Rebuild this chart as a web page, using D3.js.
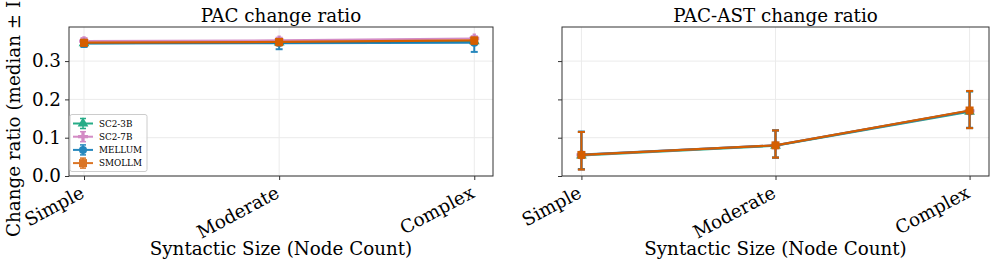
<!DOCTYPE html>
<html>
<head>
<meta charset="utf-8">
<script src="https://cdn.jsdelivr.net/npm/d3@7"></script>
<style>
  body { margin: 0; background: #fff; }
  text { font-family: "DejaVu Serif", serif; }
</style>
</head>
<body>
<script>
const categories = ["Simple", "Moderate", "Complex"];
const seriesNames = ["SC2-3B", "SC2-7B", "MELLUM", "SMOLLM"];
const seriesColors = ["#029e73", "#cc78bc", "#0173b2", "#d55e00"];
const seriesMarkers = ["triangle", "plus", "circle", "square"];
const yTicks = [0.0, 0.1, 0.2, 0.3];

// PAC change ratio: median, lower and upper (IQR)
const pacMedian = [
  [0.347, 0.349, 0.352],
  [0.352, 0.354, 0.359],
  [0.346, 0.347, 0.348],
  [0.348, 0.350, 0.354]
];
const pacLow = [
  [0.339, 0.342, 0.344],
  [0.345, 0.347, 0.351],
  [0.337, 0.331, 0.324],
  [0.340, 0.341, 0.345]
];
const pacHigh = [
  [0.354, 0.356, 0.360],
  [0.360, 0.361, 0.365],
  [0.353, 0.355, 0.356],
  [0.355, 0.357, 0.361]
];

// PAC-AST change ratio
const astMedian = [
  [0.054, 0.079, 0.168],
  [0.055, 0.080, 0.170],
  [0.056, 0.080, 0.170],
  [0.055, 0.080, 0.171]
];
const astLow = [
  [0.017, 0.048, 0.125],
  [0.017, 0.048, 0.125],
  [0.018, 0.048, 0.126],
  [0.017, 0.048, 0.125]
];
const astHigh = [
  [0.115, 0.119, 0.221],
  [0.115, 0.119, 0.222],
  [0.116, 0.119, 0.221],
  [0.115, 0.119, 0.222]
];

const svg = d3.select("body").append("svg")
  .attr("width", 997)
  .attr("height", 267);

const plotTop = 27, plotBottom = 176;
const fs = "18.3px";
const y = d3.scaleLinear().domain([0, 0.389]).range([plotBottom, plotTop]);

function marker(g, kind, x0, y0, color) {
  if (kind == "square") {
    g.append("rect").attr("x", x0 - 4).attr("y", y0 - 4).attr("width", 8).attr("height", 8).attr("fill", color);
  } else if (kind == "circle") {
    g.append("circle").attr("cx", x0).attr("cy", y0).attr("r", 4).attr("fill", color);
  } else if (kind == "triangle") {
    g.append("path").attr("d", d3.symbol(d3.symbolTriangle, 50)()).attr("transform", `translate(${x0},${y0})`).attr("fill", color);
  } else {
    g.append("path").attr("d", d3.symbol(d3.symbolCross, 55)()).attr("transform", `translate(${x0},${y0})`).attr("fill", color);
  }
}

function panel(left, right, xDom, title, med, low, high, showYLabels, showLegend) {
  const xl = d3.scaleLinear().domain(xDom).range([left, right]);
  const px = c => xl(categories.indexOf(c));

  const g = svg.append("g");

  // grid
  g.selectAll(".gy").data(yTicks).enter().append("line")
    .attr("x1", left).attr("x2", right)
    .attr("y1", d => y(d)).attr("y2", d => y(d))
    .attr("stroke", "#ebebeb").attr("stroke-width", 1);
  g.selectAll(".gx").data(categories).enter().append("line")
    .attr("x1", d => px(d)).attr("x2", d => px(d))
    .attr("y1", plotTop).attr("y2", plotBottom)
    .attr("stroke", "#ebebeb").attr("stroke-width", 1);

  // axes
  const yAxis = d3.axisLeft(y).tickValues(yTicks).tickSize(4)
    .tickFormat(showYLabels ? d3.format(".1f") : "");
  const ya = g.append("g").attr("transform", `translate(${left},0)`).call(yAxis);
  ya.select(".domain").remove();
  ya.selectAll("text").attr("font-size", fs).attr("font-family", "DejaVu Serif").attr("fill", "#000").attr("dx", "-1");
  ya.selectAll("line").attr("stroke", "#333");

  const xAxis = d3.axisBottom(d3.scalePoint().domain(categories).range([px("Simple"), px("Complex")])).tickSize(4);
  const xa = g.append("g").attr("transform", `translate(0,${plotBottom})`).call(xAxis);
  xa.select(".domain").remove();
  xa.selectAll("line").attr("stroke", "#333");
  xa.selectAll("text")
    .attr("font-size", fs).attr("font-family", "DejaVu Serif").attr("fill", "#000")
    .attr("text-anchor", "end")
    .attr("y", 0).attr("dy", "0.35em").attr("dx", "0")
    .attr("transform", "translate(-2,15) rotate(-28)");

  // frame
  g.append("rect").attr("x", left).attr("y", plotTop).attr("width", right - left).attr("height", plotBottom - plotTop)
    .attr("fill", "none").attr("stroke", "#333").attr("stroke-width", 1);

  // series
  const line = d3.line().x((d, i) => px(categories[i])).y(d => y(d));
  seriesNames.forEach((name, s) => {
    const sg = g.append("g").attr("opacity", s == seriesNames.length - 1 ? 1 : 0.85);
    sg.append("path").datum(med[s]).attr("d", line)
      .attr("fill", "none").attr("stroke", seriesColors[s]).attr("stroke-width", 2.2);
    categories.forEach((c, i) => {
      const cx = px(c);
      sg.append("line").attr("x1", cx).attr("x2", cx).attr("y1", y(low[s][i])).attr("y2", y(high[s][i]))
        .attr("stroke", seriesColors[s]).attr("stroke-width", 2);
      [low[s][i], high[s][i]].forEach(v => {
        sg.append("line").attr("x1", cx - 3.5).attr("x2", cx + 3.5).attr("y1", y(v)).attr("y2", y(v))
          .attr("stroke", seriesColors[s]).attr("stroke-width", 2);
      });
      marker(sg, seriesMarkers[s], cx, y(med[s][i]), seriesColors[s]);
    });
  });

  // title and x label
  g.append("text").attr("x", (left + right) / 2).attr("y", 22)
    .attr("text-anchor", "middle").attr("font-size", fs).text(title);
  g.append("text").attr("x", (left + right) / 2).attr("y", 255)
    .attr("text-anchor", "middle").attr("font-size", fs).text("Syntactic Size (Node Count)");

  if (showLegend) {
    const lg = g.append("g");
    lg.append("rect").attr("x", 70).attr("y", 114.5).attr("width", 77).attr("height", 57).attr("rx", 2)
      .attr("fill", "#fff").attr("fill-opacity", 0.8).attr("stroke", "#ccc");
    seriesNames.forEach((name, s) => {
      const yy = 123.5 + s * 13.2;
      const eg = lg.append("g").attr("opacity", 0.85);
      eg.append("line").attr("x1", 73).attr("x2", 93).attr("y1", yy).attr("y2", yy)
        .attr("stroke", seriesColors[s]).attr("stroke-width", 2);
      eg.append("line").attr("x1", 83).attr("x2", 83).attr("y1", yy - 5).attr("y2", yy + 5)
        .attr("stroke", seriesColors[s]).attr("stroke-width", 1.5);
      [yy - 5, yy + 5].forEach(v => {
        eg.append("line").attr("x1", 80).attr("x2", 86).attr("y1", v).attr("y2", v)
          .attr("stroke", seriesColors[s]).attr("stroke-width", 1.5);
      });
      marker(eg, seriesMarkers[s], 83, yy, seriesColors[s]);
      lg.append("text").attr("x", 99).attr("y", yy + 3).attr("font-size", "8.8px").text(name);
    });
  }
}

panel(69, 493, [-0.077, 2.096], "PAC change ratio", pacMedian, pacLow, pacHigh, true, true);
panel(562, 989, [-0.1, 2.1], "PAC-AST change ratio", astMedian, astLow, astHigh, false, false);

svg.append("text")
  .attr("transform", "translate(20,101) rotate(-90)")
  .attr("text-anchor", "middle")
  .attr("font-size", fs)
  .text("Change ratio (median ± IQR)");
</script>
</body>
</html>
